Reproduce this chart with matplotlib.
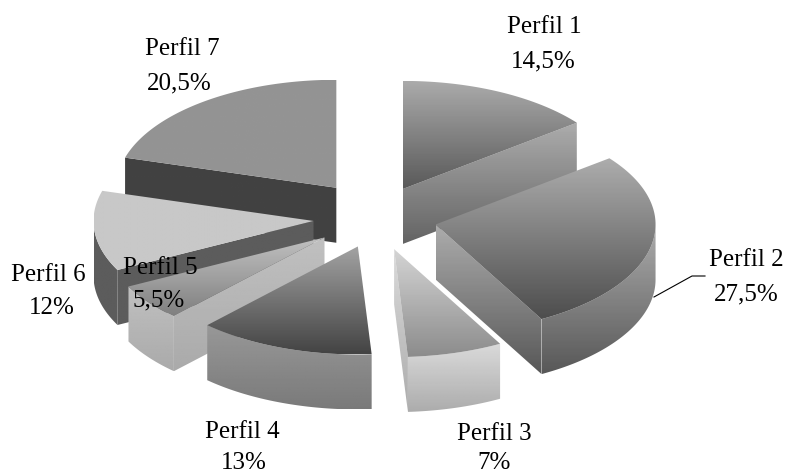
import numpy as np
import matplotlib
matplotlib.use("Agg")
import matplotlib.pyplot as plt
from matplotlib.patches import Polygon

labels = ["Perfil 1", "Perfil 2", "Perfil 3", "Perfil 4", "Perfil 5", "Perfil 6", "Perfil 7"]
values = [14.5, 27.5, 7, 13, 5.5, 12, 20.5]
value_text = ["14,5%", "27,5%", "7%", "13%", "5,5%", "12%", "20,5%"]

# style / layout
CX, CY, RX, RY, H = 372, 218, 220, 108, 55
EXPLODE_X = [0.32, 0.295, 0.36, 0.19, 0.27, 0.267, 0.27]
EXPLODE_Y = [0.30, 0.295, 0.30, 0.28, 0.30, 0.29, 0.35]
TOP = [(170, 90), (172, 78), (212, 140), (162, 68), (192, 128), (200, 200), (148, 148)]
SIDE = [(172, 100), (172, 88), (218, 172), (152, 122), (192, 170), (92, 92), (66, 66)]
ORDER = [6, 0, 5, 1, 4, 2, 3]
LABEL_POS = [((507, 33), (511, 67)), ((709, 266), (714, 300)), ((457, 440), (477, 469)),
             ((205, 438), (221, 469)), ((123, 274), (133, 306)), ((11, 281), (29, 314)),
             ((145, 55), (147, 89))]

fig = plt.figure(figsize=(7.87, 4.74), dpi=100)
ax = fig.add_axes([0, 0, 1, 1])
ax.set_xlim(0, 787)
ax.set_ylim(474, 0)
ax.axis("off")


def face(xy, shade, z):
    xy = np.asarray(xy)
    x0, x1 = xy[:, 0].min(), xy[:, 0].max()
    y0, y1 = xy[:, 1].min(), xy[:, 1].max()
    im = ax.imshow(np.linspace(shade[0], shade[1], 64)[:, None], cmap="gray", vmin=0, vmax=255,
                   extent=(x0, x1, y1, y0), aspect="auto", zorder=z, interpolation="bilinear")
    p = Polygon(xy, closed=True, transform=ax.transData, fc="none", ec="none")
    ax.add_patch(p)
    im.set_clip_path(p)


edges = np.concatenate([[0], np.cumsum(values)]) / np.sum(values) * 2 * np.pi


def rim(ox, oy, a):
    return np.column_stack([ox + RX * np.sin(a), oy - RY * np.cos(a)])


z = 1
for i in ORDER:
    a0, a1 = edges[i], edges[i + 1]
    mid = (a0 + a1) / 2
    ox = CX + EXPLODE_X[i] * RX * np.sin(mid)
    oy = CY - EXPLODE_Y[i] * RY * np.cos(mid)
    apex = np.array([[ox, oy]])
    down = np.array([[0, H]])
    # radial walls facing the viewer
    for a, visible in ((a0, np.sin(a0) < 0), (a1, np.sin(a1) > 0)):
        if visible:
            pt = rim(ox, oy, np.array([a]))
            face(np.vstack([apex, pt, pt + down, apex + down]), SIDE[i], z)
            z += 1
    # outer wall
    lo, hi = max(a0, np.pi / 2), min(a1, 3 * np.pi / 2)
    if hi > lo:
        arc = rim(ox, oy, np.linspace(lo, hi, 80))
        face(np.vstack([arc, (arc + down)[::-1]]), SIDE[i], z)
        z += 1
    # top
    arc = rim(ox, oy, np.linspace(a0, a1, 120))
    face(np.vstack([apex, arc]), TOP[i], z)
    z += 1

for name, pct, (p1, p2) in zip(labels, value_text, LABEL_POS):
    for s, (x, y) in ((name, p1), (pct, p2)):
        ax.text(x, y, s, family="Liberation Serif", fontsize=18, color="black",
                ha="left", va="baseline", zorder=100, clip_on=False)

ax.plot([654, 692, 705], [297, 276, 276], color="black", lw=0.8, zorder=100)
ax.set_xlim(0, 787)
ax.set_ylim(474, 0)
fig.savefig("out.png", dpi=100, facecolor="white")
